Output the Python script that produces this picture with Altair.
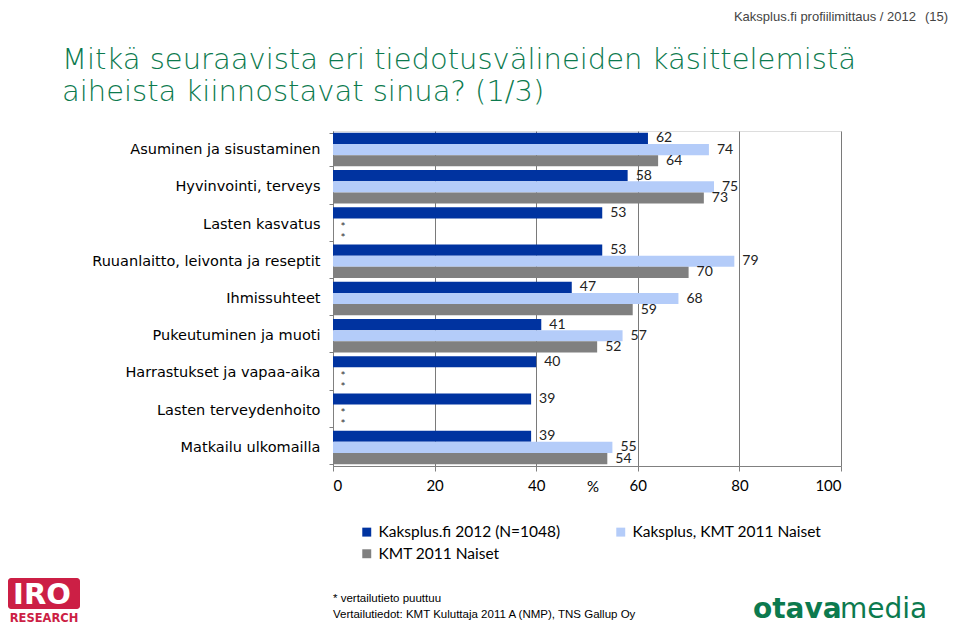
import altair as alt
import pandas as pd

categories = [
    "Asuminen ja sisustaminen",
    "Hyvinvointi, terveys",
    "Lasten kasvatus",
    "Ruuanlaitto, leivonta ja reseptit",
    "Ihmissuhteet",
    "Pukeutuminen ja muoti",
    "Harrastukset ja vapaa-aika",
    "Lasten terveydenhoito",
    "Matkailu ulkomailla",
]
series = ["Kaksplus.fi 2012 (N=1048)", "Kaksplus, KMT 2011 Naiset", "KMT 2011 Naiset"]
kaksplus_2012 = [62, 58, 53, 53, 47, 41, 40, 39, 39]
kaksplus_kmt_2011 = [74, 75, None, 79, 68, 57, None, None, 55]
kmt_2011 = [64, 73, None, 70, 59, 52, None, None, 54]
colors = ["#0033A0", "#B4CCF9", "#808080"]
x_ticks = [0, 20, 40, 60, 80, 100]

rows = []
for s, vals in zip(series, [kaksplus_2012, kaksplus_kmt_2011, kmt_2011]):
    for c, v in zip(categories, vals):
        rows.append({"category": c, "series": s, "value": v})
df = pd.DataFrame(rows)

FONT = "Lato"
CATFONT = "DejaVu Sans"
W, H = 508, 335
OX, OY = 333, 131  # page position of plot origin
SVG_H = 617

y_enc = alt.Y(
    "category:N",
    sort=categories,
    scale=alt.Scale(paddingInner=0.1, paddingOuter=0.05),
    axis=alt.Axis(
        title=None,
        labelFontSize=14.5,
        labelFont=CATFONT,
        labelColor="#000000",
        labelPadding=9,
        tickSize=4,
        tickBand="extent",
        tickColor="#808080",
        domainColor="#808080",
        labelLimit=300,
    ),
)
yoff_enc = alt.YOffset("series:N", sort=series, scale=alt.Scale(paddingInner=0, paddingOuter=0))
x_enc = alt.X(
    "value:Q",
    scale=alt.Scale(domain=[0, 100]),
    axis=alt.Axis(
        values=x_ticks,
        title=None,
        grid=True,
        gridColor="#7A7A7A",
        domainColor="#808080",
        tickColor="#808080",
        tickSize=5,
        labelPadding=7,
        labelFontSize=15,
        labelFont=FONT,
        labelColor="#000000",
    ),
)

base = alt.Chart(df)

bars = base.mark_bar().transform_filter("isValid(datum.value)").encode(
    y=y_enc,
    yOffset=yoff_enc,
    x=x_enc,
    color=alt.Color(
        "series:N",
        sort=series,
        scale=alt.Scale(domain=series, range=colors),
        legend=alt.Legend(
            title=None,
            orient="none",
            direction="horizontal",
            legendX=26,
            legendY=393,
            columns=2,
            columnPadding=52,
            rowPadding=5,
            symbolType="square",
            symbolSize=80,
            symbolStrokeWidth=0,
            labelFontSize=15.5,
            labelFont=FONT,
            labelColor="#000000",
            labelOffset=4,
            labelLimit=300,
        ),
    ),
)

labels = base.mark_text(
    align="left", baseline="middle", dx=8, fontSize=14, font=FONT, color="#222222"
).transform_filter("isValid(datum.value)").encode(
    y=alt.Y("category:N", sort=categories),
    yOffset=alt.YOffset("series:N", sort=series),
    x=alt.X("value:Q"),
    text=alt.Text("value:Q"),
)

stars = base.mark_text(
    align="center", baseline="middle", dy=3, fontSize=12, font=FONT, color="#333333"
).transform_filter("!isValid(datum.value)").encode(
    y=alt.Y("category:N", sort=categories),
    yOffset=alt.YOffset("series:N", sort=series),
    x=alt.datum(2),
    text=alt.value("*"),
)

dummy = pd.DataFrame({"a": [0]})


def txt(text, px, py, size, color="#000000", weight="normal", font=FONT,
        align="left", baseline="alphabetic"):
    return alt.Chart(dummy).mark_text(
        text=text, fontSize=size, color=color, fontWeight=weight, font=font,
        align=align, baseline=baseline,
    ).encode(x=alt.value(px - OX), y=alt.value(py - OY))


GREEN = "#0C7A4E"
pct = txt("%", 587, 492, 15, baseline="alphabetic")
header1 = txt("Kaksplus.fi profiilimittaus / 2012", 916, 17, 13, color="#444444",
              align="right", baseline="middle", font="Liberation Sans")
header2 = txt("(15)", 925, 17, 13, color="#444444", baseline="middle", font="Liberation Sans")
title1 = txt("Mitkä seuraavista eri tiedotusvälineiden käsittelemistä", 62, 69, 29,
             color=GREEN, weight=200, font="DejaVu Sans")
title2 = txt("aiheista kiinnostavat sinua? (1/3)", 62, 101, 29, color=GREEN, weight=200,
             font="DejaVu Sans")
foot1 = txt("* vertailutieto puuttuu", 333, 602, 11.5, font="Liberation Sans")
foot2 = txt("Vertailutiedot: KMT Kuluttaja 2011 A (NMP), TNS Gallup Oy", 333, 618, 11.5,
            font="Liberation Sans")

iro_box = alt.Chart(dummy).mark_rect(color="#CC1F45", cornerRadius=3).encode(
    x=alt.value(8 - OX), x2=alt.value(80 - OX), y=alt.value(578 - OY), y2=alt.value(609 - OY)
)
iro_txt = txt("IRO", 42, 604, 29, color="#FFFFFF", weight="bold", font="DejaVu Sans",
              align="center")
iro_res = txt("RESEARCH", 44, 622, 11.5, color="#CC1F45", weight="bold", font="DejaVu Sans",
              align="center")
otava = txt("otava", 753, 618, 28, color=GREEN, weight="bold", font="DejaVu Sans")
media = txt("media", 840, 618, 28, color=GREEN, font="DejaVu Sans")

chart = alt.layer(
    bars, labels, stars, pct, header1, header2, title1, title2, foot1, foot2,
    iro_box, iro_txt, iro_res, otava, media,
).properties(
    width=W,
    height=H,
    autosize=alt.AutoSizeParams(type="none"),
    padding={"left": OX - 8, "top": OY - 8, "right": 943 - (OX - 8) - W,
             "bottom": SVG_H - (OY - 8) - H},
).configure_view(
    stroke="#808080", strokeWidth=1
).configure(background="white")

chart.save("out.html", embed_options={"renderer": "svg", "actions": False})
